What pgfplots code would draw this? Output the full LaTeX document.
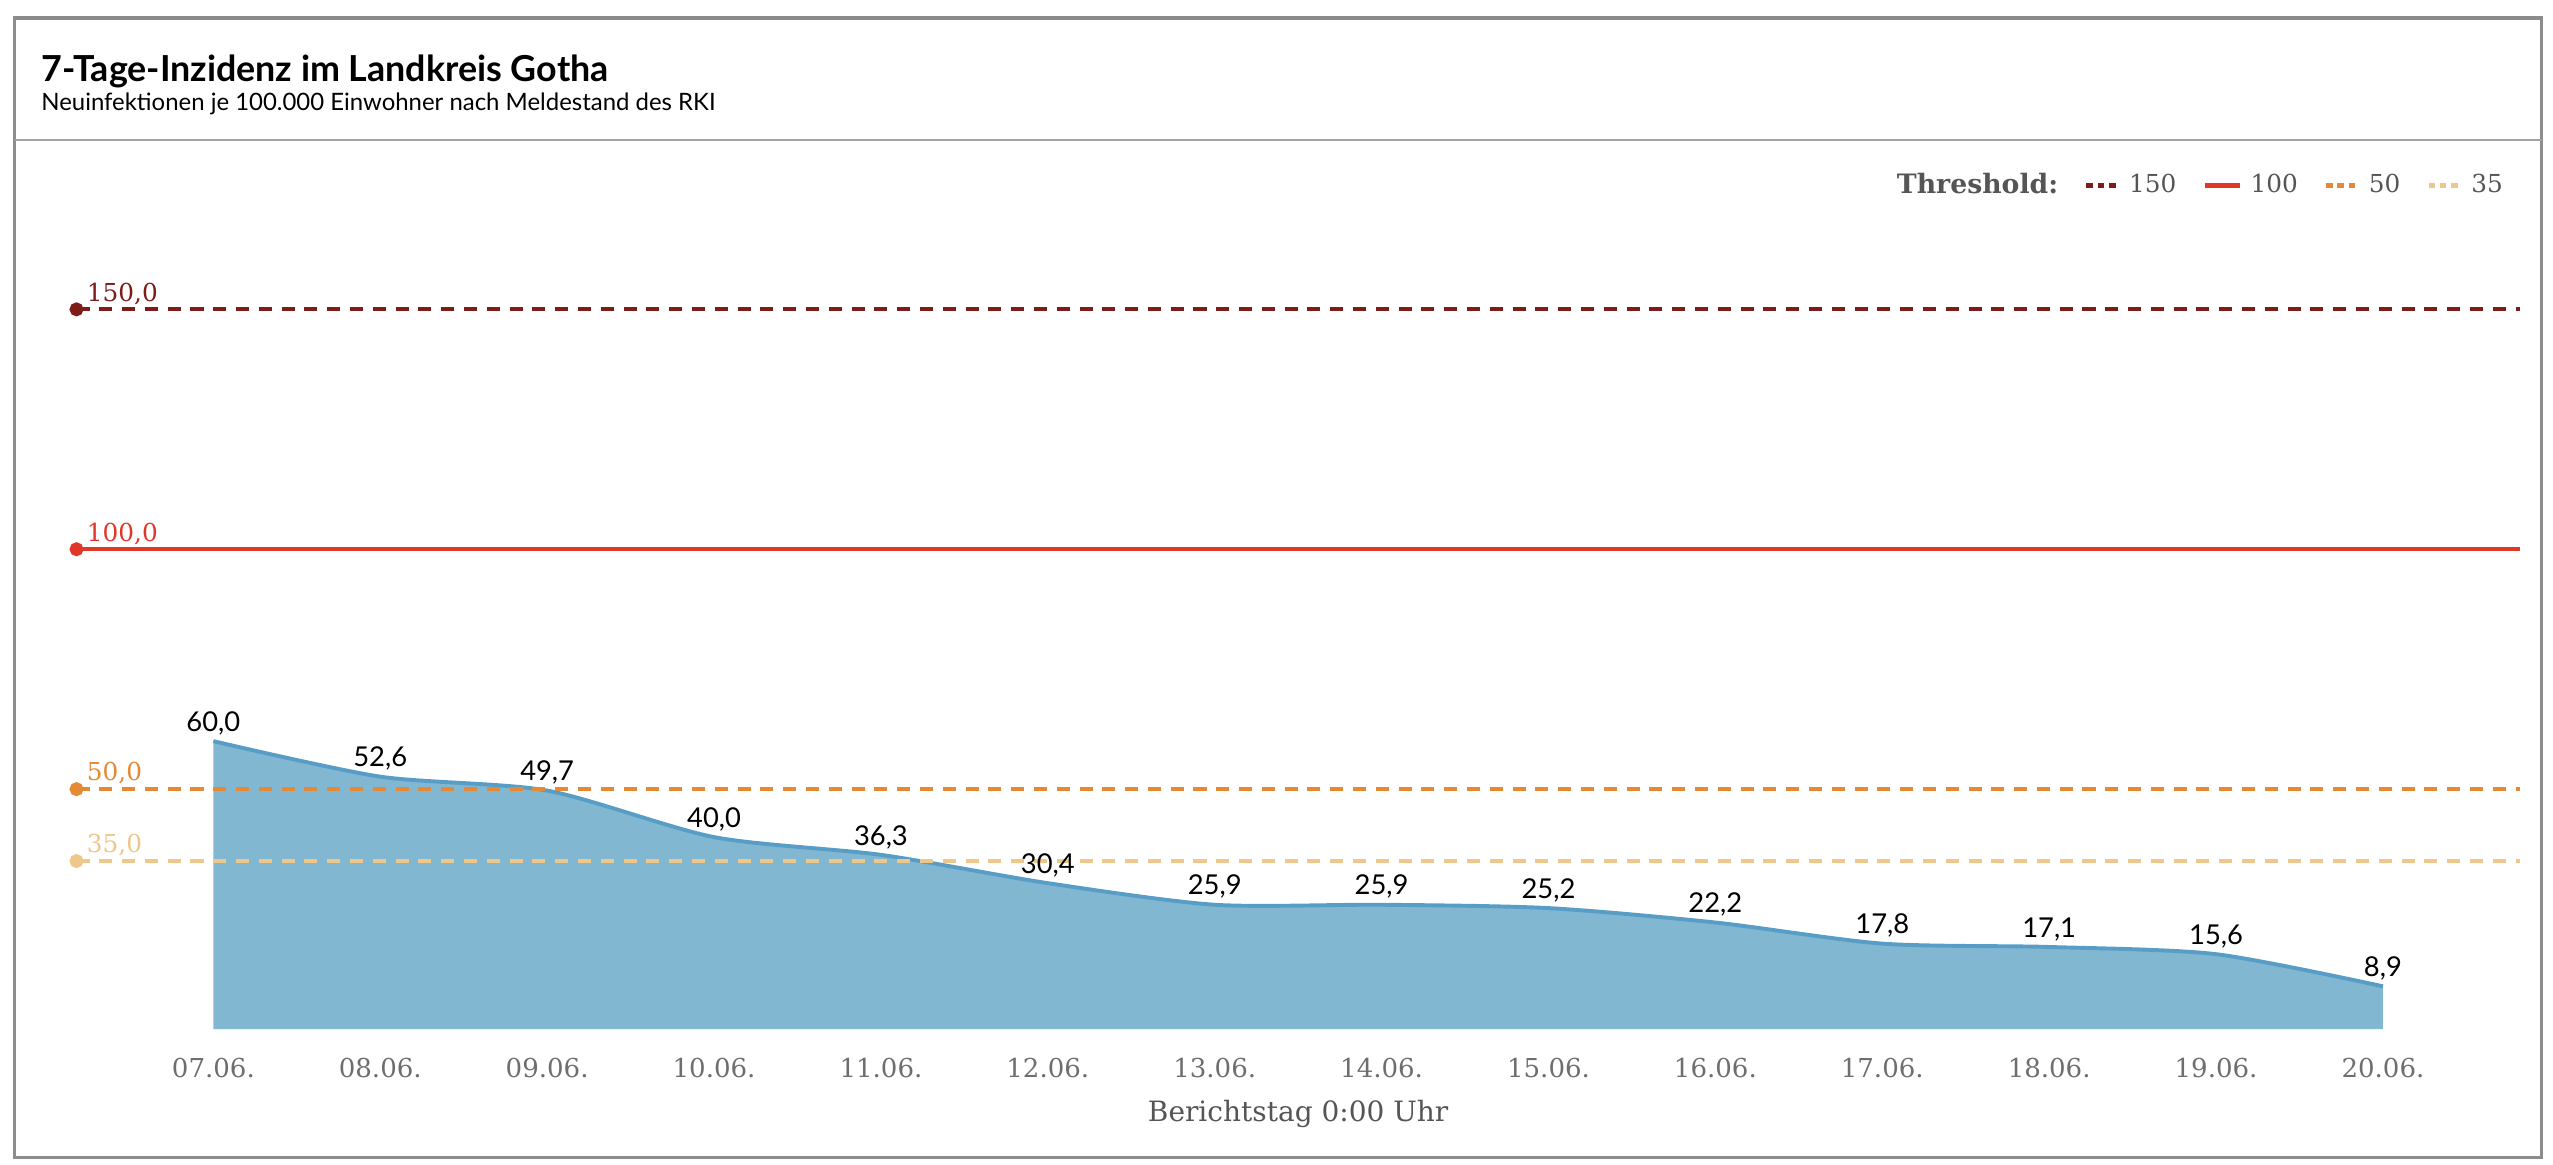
\documentclass[border=0pt]{standalone}
\usepackage{fontspec}
\setmainfont{DejaVu Serif}
\newfontfamily\lato{Lato}
\usepackage{pgfplots}
\pgfplotsset{compat=1.18}
\definecolor{c150}{RGB}{125,28,24}
\definecolor{c100}{RGB}{224,55,40}
\definecolor{c50}{RGB}{229,137,52}
\definecolor{c35}{RGB}{238,200,138}
\definecolor{areafill}{RGB}{130,183,210}
\definecolor{arealine}{RGB}{88,157,197}
\definecolor{tickgray}{RGB}{110,110,110}
\definecolor{labgray}{RGB}{85,85,85}
\definecolor{framegray}{RGB}{140,140,140}
\pgfplotsset{
  dashleg/.style={legend image code/.code={\draw[##1,mark=none,line width=1.3pt,dash pattern=on 2pt off 1.5pt] (0pt,0pt) -- (10pt,0pt);}},
  solidleg/.style={legend image code/.code={\draw[##1,mark=none,line width=1.3pt] (0pt,0pt) -- (11pt,0pt);}},
}
\begin{document}
\begin{tikzpicture}
\path[use as bounding box] (0pt,0pt) rectangle (784pt,-357.5pt);
\begin{scope}[x=0.5pt,y=-0.5pt]
  \draw[framegray, line width=1pt] (9,11) rectangle (1561,711);
  \draw[framegray!80, line width=0.6pt] (9,86) -- (1561,86);
  \node[anchor=base west, inner sep=0pt, font=\lato\bfseries\fontsize{11}{13}\selectfont] at (25,50) {7-Tage-Inzidenz im Landkreis Gotha};
  \node[anchor=base west, inner sep=0pt, font=\lato\fontsize{7.35}{8.5}\selectfont] at (25,68) {Neuinfektionen je 100.000 Einwohner nach Meldestand des RKI};
\end{scope}
\begin{axis}[
  at={(23.5pt,-316pt)}, anchor=south west,
  scale only axis, width=750.3pt, height=221pt,
  xmin=-0.82, xmax=13.82, ymin=0, ymax=150,
  axis x line=bottom, axis y line=none,
  axis line style={draw=none},
  major tick length=0pt,
  xtick={0,...,13},
  xticklabels={07.06.,08.06.,09.06.,10.06.,11.06.,12.06.,13.06.,14.06.,15.06.,16.06.,17.06.,18.06.,19.06.,20.06.},
  xticklabel style={font=\fontsize{8}{9}\selectfont, text=tickgray, anchor=center, yshift=-12pt},
  clip=false,
  legend style={at={(1,1)}, anchor=east, xshift=-4pt, yshift=38pt, draw=none, fill=none,
    legend columns=-1, font=\fontsize{7.6}{8.5}\selectfont, text=labgray, inner sep=0pt,
    nodes={inner sep=1pt},
    /tikz/every even column/.append style={column sep=7pt},
    /tikz/every odd column/.append style={column sep=1.5pt}},
]
\addlegendimage{empty legend}
\addlegendentry{\fontsize{8.2}{9}\selectfont\textbf{Threshold:}}
% area
\addplot[smooth, tension=0.45, draw=none, fill=areafill, forget plot] coordinates {
(0,60.0) (1,52.6) (2,49.7) (3,40.0) (4,36.3) (5,30.4) (6,25.9) (7,25.9) (8,25.2) (9,22.2) (10,17.8) (11,17.1) (12,15.6) (13,8.9)
} \closedcycle;
\addplot[smooth, tension=0.45, draw=arealine, line width=1.2pt, forget plot] coordinates {
(0,60.0) (1,52.6) (2,49.7) (3,40.0) (4,36.3) (5,30.4) (6,25.9) (7,25.9) (8,25.2) (9,22.2) (10,17.8) (11,17.1) (12,15.6) (13,8.9)
};
% thresholds
\addplot[c150, line width=1.25pt, dash pattern=on 4pt off 3pt, mark=*, mark indices={1}, mark size=1.5pt, mark options={solid}, dashleg]
  coordinates {(-0.82,150) (13.82,150)};
\addlegendentry{150}
\addplot[c100, line width=1.25pt, mark=*, mark indices={1}, mark size=1.5pt, solidleg]
  coordinates {(-0.82,100) (13.82,100)};
\addlegendentry{100}
\addplot[c50, line width=1.25pt, dash pattern=on 4pt off 3pt, mark=*, mark indices={1}, mark size=1.5pt, mark options={solid}, dashleg]
  coordinates {(-0.82,50) (13.82,50)};
\addlegendentry{50}
\addplot[c35, line width=1.25pt, dash pattern=on 4pt off 3pt, mark=*, mark indices={1}, mark size=1.5pt, mark options={solid}, dashleg]
  coordinates {(-0.82,35) (13.82,35)};
\addlegendentry{35}
% value labels
\addplot[draw=none, mark=none, forget plot,
  nodes near coords={\pgfmathprintnumber[fixed,fixed zerofill,precision=1,use comma,assume math mode=true]{\pgfplotspointmeta}},
  every node near coord/.append style={anchor=base, inner sep=0pt, yshift=3pt, font=\lato\fontsize{8.4}{9.5}\selectfont, text=black}]
  coordinates {
(0,60.0) (1,52.6) (2,49.7) (3,40.0) (4,36.3) (5,30.4) (6,25.9) (7,25.9) (8,25.2) (9,22.2) (10,17.8) (11,17.1) (12,15.6) (13,8.9)
};
% threshold value labels
\node[anchor=base west, inner sep=0pt, xshift=3pt, yshift=2.5pt, text=c150, font=\fontsize{7.6}{8.5}\selectfont] at (axis cs:-0.82,150) {150,0};
\node[anchor=base west, inner sep=0pt, xshift=3pt, yshift=2.5pt, text=c100, font=\fontsize{7.6}{8.5}\selectfont] at (axis cs:-0.82,100) {100,0};
\node[anchor=base west, inner sep=0pt, xshift=3pt, yshift=2.5pt, text=c50, font=\fontsize{7.6}{8.5}\selectfont] at (axis cs:-0.82,50) {50,0};
\node[anchor=base west, inner sep=0pt, xshift=3pt, yshift=2.5pt, text=c35, font=\fontsize{7.6}{8.5}\selectfont] at (axis cs:-0.82,35) {35,0};
\node[font=\fontsize{8.6}{9.5}\selectfont, text=labgray, yshift=-26pt] at (axis cs:6.5,0) {Berichtstag 0:00 Uhr};
\end{axis}
\end{tikzpicture}
\end{document}
